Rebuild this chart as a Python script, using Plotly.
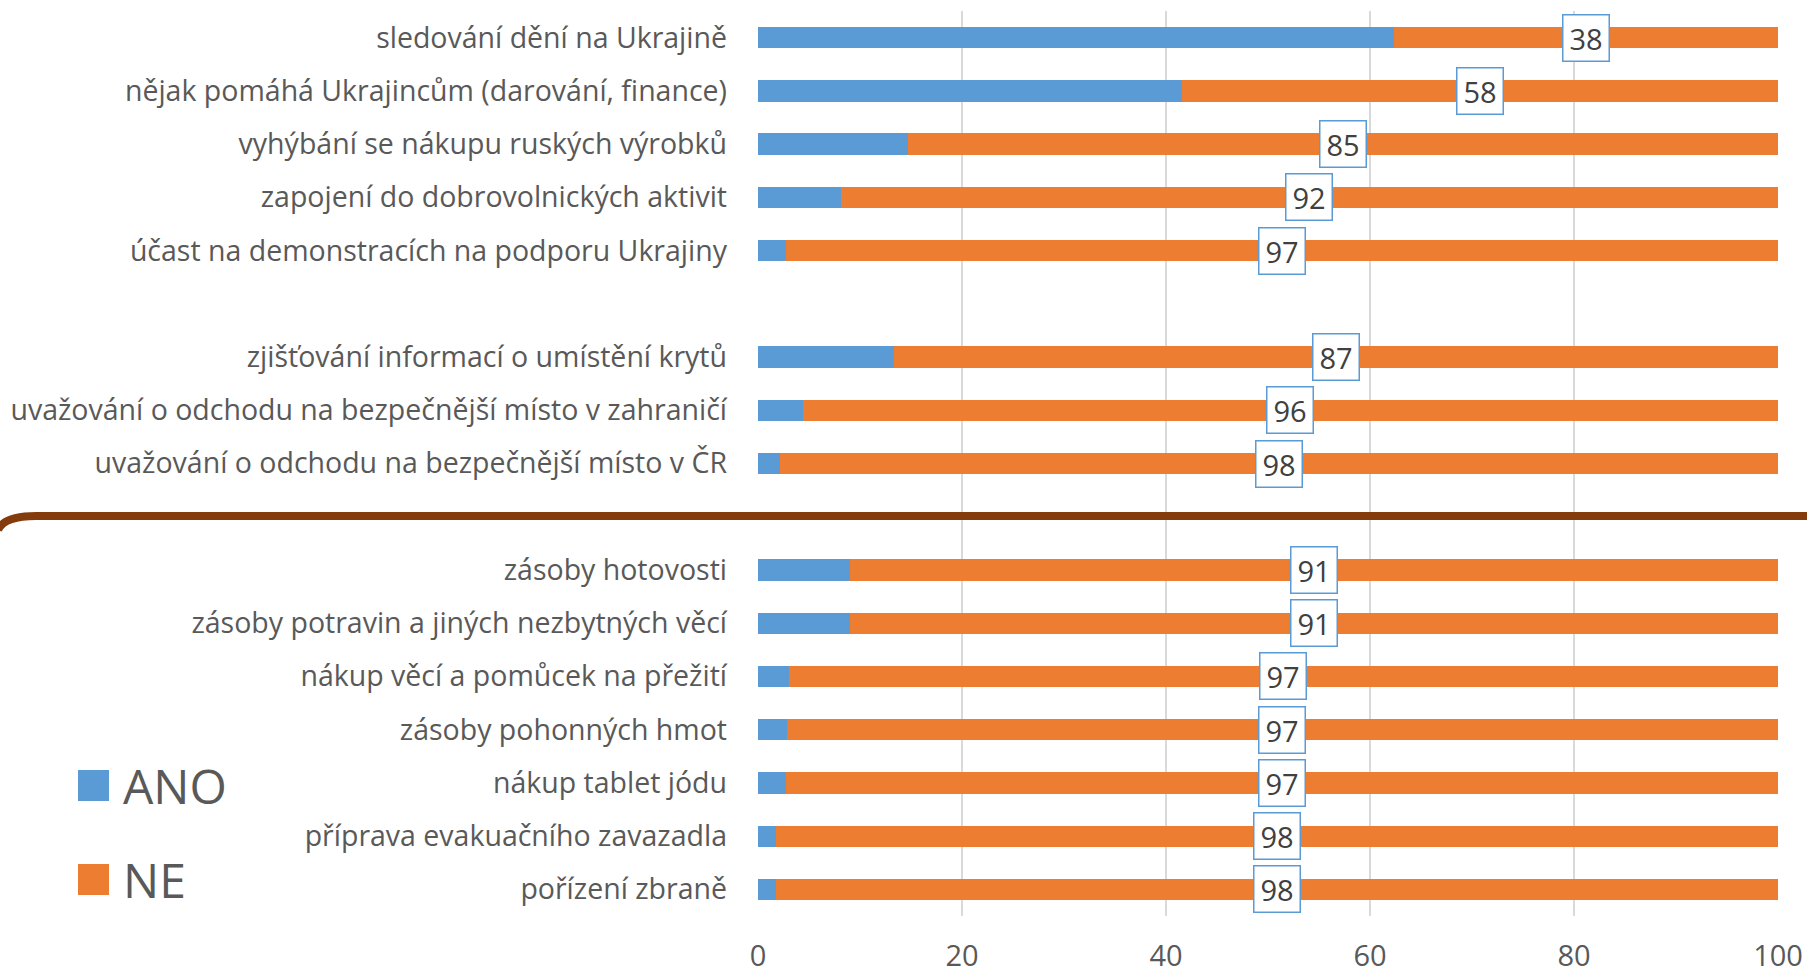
import plotly.graph_objects as go

# --- data (percent) ---
group1 = ['sledování dění na Ukrajině',
          'nějak pomáhá Ukrajincům (darování, finance)',
          'vyhýbání se nákupu ruských výrobků',
          'zapojení do dobrovolnických aktivit',
          'účast na demonstracích na podporu Ukrajiny']
group1_ano = [62.4, 41.6, 14.7, 8.1, 2.7]
group1_ne = [37.6, 58.4, 85.3, 91.9, 97.3]

group2 = ['zjišťování informací o umístění krytů',
          'uvažování o odchodu na bezpečnější místo v zahraničí',
          'uvažování o odchodu na bezpečnější místo v ČR']
group2_ano = [13.3, 4.4, 2.2]
group2_ne = [86.7, 95.6, 97.8]

group3 = ['zásoby hotovosti',
          'zásoby potravin a jiných nezbytných věcí',
          'nákup věcí a pomůcek na přežití',
          'zásoby pohonných hmot',
          'nákup tablet jódu',
          'příprava evakuačního zavazadla',
          'pořízení zbraně']
group3_ano = [9.0, 9.0, 3.0, 2.8, 2.7, 1.8, 1.8]
group3_ne = [91.0, 91.0, 97.0, 97.2, 97.3, 98.2, 98.2]

x_ticks = [0, 20, 40, 60, 80, 100]

BLUE = '#5B9BD5'
ORANGE = '#ED7D31'
BROWN = '#843C0C'
GREY_TXT = '#595959'
FONT = 'Open Sans'

# categories with an empty slot between groups
cats = group1 + [' '] + group2 + ['  '] + group3
ano = group1_ano + [None] + group2_ano + [None] + group3_ano
ne = group1_ne + [None] + group2_ne + [None] + group3_ne

W, H = 1807, 973
L, R, T, B = 758, 29, 11, 57
pw, ph = W - L - R, H - T - B


def px_x(px):
    # pixel -> paper x
    return (px - L) / pw


def px_y(py):
    # pixel -> paper y
    return (H - B - py) / ph


fig = go.Figure()
fig.add_trace(go.Bar(name='ANO', y=cats, x=ano, orientation='h',
                     marker=dict(color=BLUE, line=dict(width=0)), width=0.4))
fig.add_trace(go.Bar(name='NE', y=cats, x=ne, orientation='h',
                     marker=dict(color=ORANGE, line=dict(width=0)), width=0.4))

# boxed value labels in the middle of the NE segment
for c, a, n in zip(cats, ano, ne):
    if n is None:
        continue
    fig.add_annotation(x=a + n / 2, y=c, xref='x', yref='y', text='{:.0f}'.format(n),
                       showarrow=False, width=45, height=45,
                       font=dict(family=FONT, size=29, color='#404040'),
                       bgcolor='white', bordercolor=BLUE, borderwidth=1.5,
                       borderpad=0)

# brown separator line with rounded left end
path = 'M {:.4f},{:.4f} Q {:.4f},{:.4f} {:.4f},{:.4f} L {:.4f},{:.4f}'.format(
    px_x(-2), px_y(530), px_x(4), px_y(516), px_x(36), px_y(516),
    px_x(W + 10), px_y(516))
fig.add_shape(type='path', path=path, xref='paper', yref='paper',
              line=dict(color=BROWN, width=8), layer='above')

# legend drawn by hand (large squares)
for name, col, yc in [('ANO', BLUE, 785), ('NE', ORANGE, 879)]:
    fig.add_shape(type='rect', xref='paper', yref='paper',
                  x0=px_x(78), x1=px_x(109), y0=px_y(yc + 16), y1=px_y(yc - 15),
                  fillcolor=col, line=dict(width=0))
    fig.add_annotation(xref='paper', yref='paper', x=px_x(121), y=px_y(yc),
                       xanchor='left', yanchor='middle', text=name, showarrow=False,
                       font=dict(family=FONT, size=48, color=GREY_TXT))

fig.update_layout(
    width=W, height=H,
    margin=dict(l=L, r=R, t=T, b=B, autoexpand=False),
    barmode='stack', showlegend=False,
    plot_bgcolor='white', paper_bgcolor='white',
    font=dict(family=FONT, color=GREY_TXT),
    xaxis=dict(range=[0, 100], tickvals=x_ticks, showgrid=True,
               gridcolor='#D9D9D9', gridwidth=2, zeroline=False,
               showline=False, ticks='', ticklabelstandoff=20,
               automargin=False,
               tickfont=dict(family=FONT, size=29, color=GREY_TXT)),
    yaxis=dict(autorange='reversed', type='category', categoryorder='array',
               categoryarray=cats, showgrid=False, zeroline=False,
               showline=False, ticks='', ticklabelstandoff=30,
               automargin=False,
               tickfont=dict(family=FONT, size=28.5, color=GREY_TXT)),
)

# drop the default 8px body margin so the figure fills the window exactly
fig.write_html('out.html', config={'displayModeBar': False},
               post_script="document.body.style.margin='0';")
